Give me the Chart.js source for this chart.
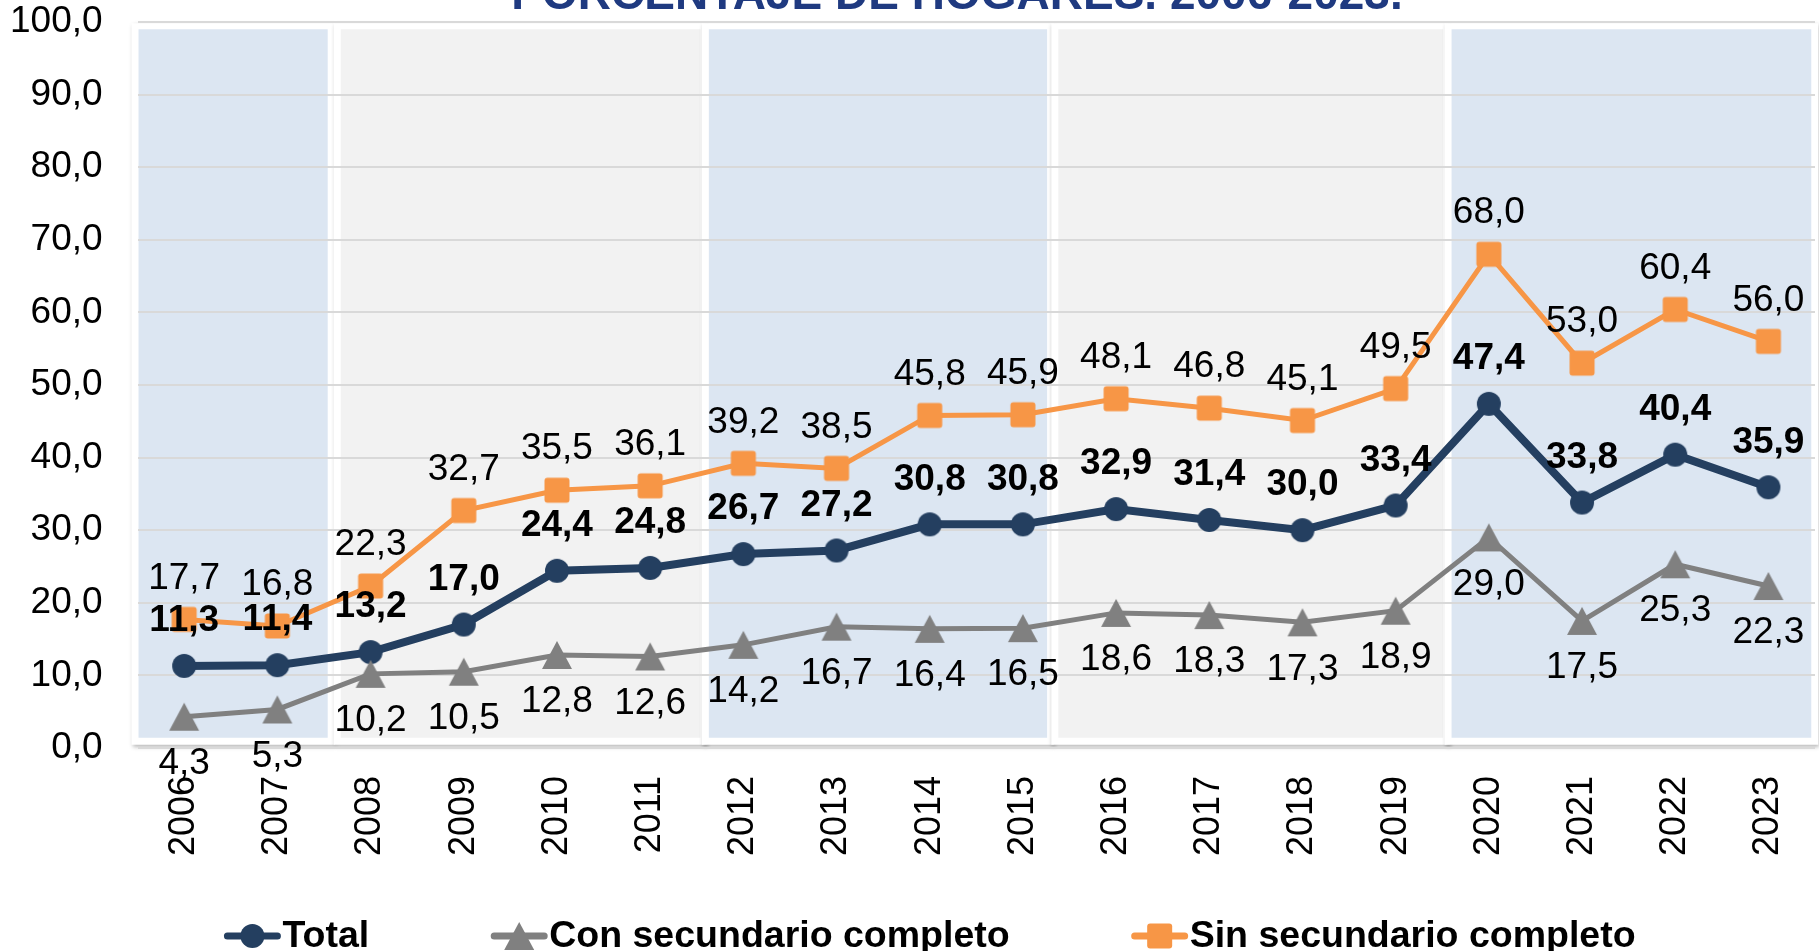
<!DOCTYPE html>
<html>
<head>
<meta charset="utf-8">
<script src="https://cdn.jsdelivr.net/npm/chart.js@4.4.1/dist/chart.umd.min.js"></script>
<style>
  html, body { margin: 0; padding: 0; background: #fff; }
  #wrap { width: 1819px; height: 951px; position: relative; }
</style>
</head>
<body>
<div id="wrap"><canvas id="lineChart"></canvas></div>
<script>
const years = ['2006', '2007', '2008', '2009', '2010', '2011', '2012', '2013', '2014',
  '2015', '2016', '2017', '2018', '2019', '2020', '2021', '2022', '2023'];
const totalData = [11.3, 11.4, 13.2, 17.0, 24.4, 24.8, 26.7, 27.2, 30.8, 30.8, 32.9, 31.4, 30.0, 33.4, 47.4, 33.8, 40.4, 35.9];
const conData = [4.3, 5.3, 10.2, 10.5, 12.8, 12.6, 14.2, 16.7, 16.4, 16.5, 18.6, 18.3, 17.3, 18.9, 29.0, 17.5, 25.3, 22.3];
const sinData = [17.7, 16.8, 22.3, 32.7, 35.5, 36.1, 39.2, 38.5, 45.8, 45.9, 48.1, 46.8, 45.1, 49.5, 68.0, 53.0, 60.4, 56.0];
const seriesNames = ['Total', 'Con secundario completo', 'Sin secundario completo'];
const yMin = 0, yMax = 100, yStep = 10;
const chartTitle = 'PORCENTAJE DE HOGARES. 2006-2023.';

// shaded panels behind the lines, in category-index units
const bandFrom = [-0.49, 1.68, 5.63, 9.38, 13.6];
const bandTo = [1.54, 5.54, 9.26, 13.51, 17.46];
const bandColors = ['#DCE6F2', '#F2F2F2', '#DCE6F2', '#F2F2F2', '#DCE6F2'];

const NAVY = '#243F60', GREY = '#808080', ORANGE = '#F79646';
const FONT = "'Liberation Sans', Arial, sans-serif";
Chart.defaults.font.family = FONT;

const fmt = v => v.toFixed(1).replace('.', ',');

function drawMarker(ctx, type, x, y, color) {
  ctx.fillStyle = color;
  ctx.beginPath();
  if (type === 'circle') {
    ctx.arc(x, y, 12, 0, Math.PI * 2);
  } else if (type === 'square') {
    ctx.roundRect(x - 12.5, y - 12.5, 25, 25, 3);
  } else {
    ctx.moveTo(x, y - 14);
    ctx.lineTo(x + 15, y + 14);
    ctx.lineTo(x - 15, y + 14);
    ctx.closePath();
  }
  ctx.fill();
}

function markerImage(type, color) {
  const c = document.createElement('canvas');
  c.width = 32; c.height = 32;
  drawMarker(c.getContext('2d'), type, 16, 16, color);
  return c;
}

// chart.js reserves tick padding on both sides of the labels and extra room at the
// ends for rotated labels; only keep the padding between labels and plot
const trimX = scale => {
  scale.paddingLeft = scale.paddingRight = scale.paddingTop = scale.paddingBottom = 0;
  scale.height -= scale.options.ticks.padding;
};
const trimY = scale => {
  scale.paddingLeft = scale.paddingRight = scale.paddingTop = scale.paddingBottom = 0;
  scale.width -= scale.options.ticks.padding;
};

const bandsPlugin = {
  id: 'bands',
  beforeDraw(chart) {
    const {ctx, scales: {x, y}} = chart;
    const top = y.getPixelForValue(99.0), bottom = y.getPixelForValue(1.4);
    ctx.save();
    bandFrom.forEach((from, i) => {
      const left = x.getPixelForValue(from), right = x.getPixelForValue(bandTo[i]);
      ctx.shadowColor = 'rgba(0,0,0,0.28)';
      ctx.shadowBlur = 4; ctx.shadowOffsetX = 1; ctx.shadowOffsetY = 2;
      ctx.fillStyle = '#fff';
      ctx.fillRect(left - 7, top - 6, right - left + 14, bottom - top + 13);
      ctx.shadowColor = 'transparent';
      ctx.fillStyle = bandColors[i];
      ctx.fillRect(left, top, right - left, bottom - top);
    });
    ctx.restore();
  }
};

const labelsPlugin = {
  id: 'pointLabels',
  afterDatasetsDraw(chart) {
    const ctx = chart.ctx;
    ctx.save();
    ctx.textAlign = 'center';
    ctx.textBaseline = 'middle';
    ctx.fillStyle = '#000';
    chart.data.datasets.forEach((ds, i) => {
      ctx.font = ds.labelFont;
      chart.getDatasetMeta(i).data.forEach((pt, j) => {
        ctx.fillText(fmt(ds.data[j]), pt.x, pt.y + ds.labelOffset);
      });
    });
    ctx.restore();
  }
};

const extrasPlugin = {
  id: 'titleLegend',
  afterDraw(chart) {
    const ctx = chart.ctx;
    ctx.save();
    // title, mostly cut off at the top edge
    ctx.font = 'bold 46px ' + FONT;
    ctx.fillStyle = '#1F3A80';
    ctx.textAlign = 'center';
    ctx.textBaseline = 'alphabetic';
    ctx.fillText(chartTitle, 957, 9);

    // legend
    ctx.font = 'bold 37.5px ' + FONT;
    ctx.textBaseline = 'middle';
    ctx.textAlign = 'left';
    const sample = 58, gap = 121;
    const widths = chart.data.datasets.map(ds => ctx.measureText(ds.label).width);
    const total = widths.reduce((a, b) => a + b, 0) + 3 * (sample + 1) + 2 * gap;
    let x = chart.width / 2 - total / 2 + 20;
    const cy = chart.height - 15;
    chart.data.datasets.forEach((ds, i) => {
      ctx.strokeStyle = ds.borderColor;
      ctx.lineWidth = 7;
      ctx.lineCap = 'round';
      ctx.beginPath();
      ctx.moveTo(x + 4, cy);
      ctx.lineTo(x + sample - 4, cy);
      ctx.stroke();
      drawMarker(ctx, ds.markerType, x + sample / 2, cy, ds.borderColor);
      ctx.fillStyle = '#000';
      ctx.fillText(ds.label, x + sample + 1, cy + 1);
      x += sample + 1 + widths[i] + gap;
    });
    ctx.restore();
  }
};

const pointOpts = { pointRadius: 1, pointHoverRadius: 1, pointBorderWidth: 0 };

const lineData = {
  labels: years,
  datasets: [
    {
      label: seriesNames[0],
      data: totalData,
      borderColor: NAVY,
      backgroundColor: NAVY,
      borderWidth: 8,
      pointStyle: markerImage('circle', NAVY),
      ...pointOpts,
      markerType: 'circle',
      labelOffset: -45,
      labelFont: 'bold 37px ' + FONT,
      order: 1,
    },
    {
      label: seriesNames[1],
      data: conData,
      borderColor: GREY,
      backgroundColor: GREY,
      borderWidth: 5,
      pointStyle: markerImage('triangle', GREY),
      ...pointOpts,
      markerType: 'triangle',
      labelOffset: 47,
      labelFont: '37px ' + FONT,
      order: 0,
    },
    {
      label: seriesNames[2],
      data: sinData,
      borderColor: ORANGE,
      backgroundColor: ORANGE,
      borderWidth: 5,
      pointStyle: markerImage('square', ORANGE),
      ...pointOpts,
      markerType: 'square',
      labelOffset: -41,
      labelFont: '37px ' + FONT,
      order: 2,
    },
  ],
};

const lineConfig = {
  type: 'line',
  data: lineData,
  options: {
    responsive: true,
    maintainAspectRatio: false,
    animation: false,
    layout: { padding: { left: 10, right: 4, top: 22, bottom: 95 } },
    plugins: {
      legend: { display: false },
      tooltip: { enabled: false },
    },
    scales: {
      x: {
        offset: true,
        grid: { display: false, drawTicks: false },
        border: { display: false },
        afterFit: trimX,
        ticks: {
          color: '#000',
          font: { size: 36 },
          minRotation: 90,
          maxRotation: 90,
          padding: 28,
          autoSkip: false,
        },
      },
      y: {
        min: yMin,
        max: yMax,
        grid: { color: '#D9D9D9', lineWidth: 2, drawTicks: false },
        border: { display: false },
        afterFit: trimY,
        ticks: {
          stepSize: yStep,
          color: '#000',
          font: { size: 37 },
          padding: 35,
          callback: v => fmt(v),
        },
      },
    },
  },
  plugins: [bandsPlugin, labelsPlugin, extrasPlugin],
};

let lineChart = new Chart(document.getElementById('lineChart'), lineConfig);
</script>
</body>
</html>
